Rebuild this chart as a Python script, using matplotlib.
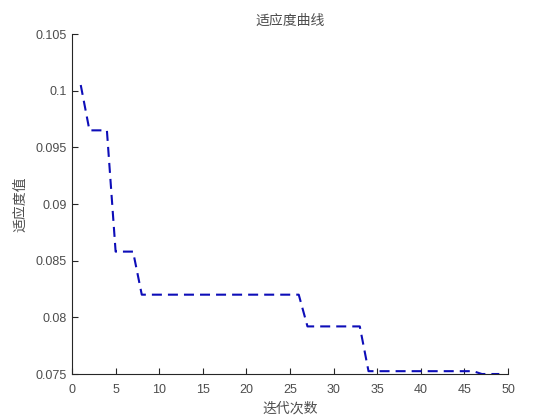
import matplotlib
matplotlib.use("Agg")
import matplotlib.pyplot as plt
import numpy as np

plt.rcParams['font.family'] = ['Liberation Sans', 'Noto Sans CJK SC', 'DejaVu Sans']

iterations = list(range(1, 50))
fitness = ([0.1005] + [0.0965] * 3 + [0.0858] * 3 + [0.0820] * 19 +
           [0.0792] * 7 + [0.07525] * 13 + [0.0750] * 3)
xticks = [0, 5, 10, 15, 20, 25, 30, 35, 40, 45, 50]
yticks = [0.075, 0.08, 0.085, 0.09, 0.095, 0.1, 0.105]
ytick_labels = ["0.075", "0.08", "0.085", "0.09", "0.095", "0.1", "0.105"]
title = "适应度曲线"
xlabel = "迭代次数"
ylabel = "适应度值"

fig = plt.figure(figsize=(5.6, 4.2), dpi=100)
ax = fig.add_axes([0.1286, 0.1095, 0.7786, 0.8095])
ax.plot(iterations, fitness, color=(0.05, 0.05, 0.72), linewidth=1.5,
        linestyle=(0, (4.8, 2.9)))
ax.set_xlim(0, 50)
ax.set_ylim(0.075, 0.105)
ax.set_xticks(xticks)
ax.set_yticks(yticks)
ax.set_yticklabels(ytick_labels)
axcol = (0.15, 0.15, 0.15)
labcol = (0.3, 0.3, 0.3)
for s in ['top', 'right']:
    ax.spines[s].set_visible(False)
for s in ['left', 'bottom']:
    ax.spines[s].set_color(axcol)
    ax.spines[s].set_linewidth(0.8)
ax.tick_params(direction='in', length=4, width=0.8, colors=axcol, labelsize=9,
               labelcolor=labcol)
ax.tick_params(axis='x', pad=7)
ax.tick_params(axis='y', pad=4)
ax.set_title(title, family=['Noto Sans CJK SC'], fontsize=10, color=labcol, pad=6.5)
ax.set_xlabel(xlabel, family=['Noto Sans CJK SC'], fontsize=10, color=labcol, labelpad=4)
ax.set_ylabel(ylabel, family=['Noto Sans CJK SC'], fontsize=10, color=labcol, labelpad=6)
fig.savefig("out.png", dpi=100, facecolor='white')
